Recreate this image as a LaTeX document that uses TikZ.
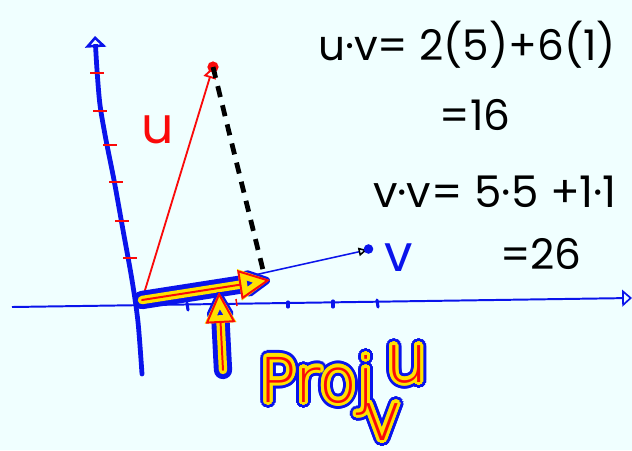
\documentclass[tikz,border=0pt]{standalone}
\usepackage{fontspec}
\setmainfont{Poppins}
\newfontfamily\handfont{DejaVu Sans ExtraLight}
\usetikzlibrary{arrows.meta,positioning}
\definecolor{paper}{RGB}{240,255,255}
\definecolor{pen}{RGB}{10,20,235}
\definecolor{marker}{RGB}{255,225,0}
\definecolor{ink}{RGB}{250,10,10}

\begin{document}
\begin{tikzpicture}[x=0.025cm,y=-0.025cm,every node/.style={font=\fontsize{30}{32}\selectfont,inner sep=0pt},
  hlpen/.style={draw=pen,line width=13pt,line cap=round,line join=round,-{Triangle[round,length=22pt,width=21pt]}},
  hlmark/.style={draw=marker,line width=6pt,line cap=round,line join=round},
  hlink/.style={draw=ink,line width=1.4pt,line cap=round,line join=round},
  hltip/.style={-{Triangle[open,length=22pt,width=21pt]}},
  redtick/.style={ink,line width=1.1pt},
  bluetick/.style={pen,line width=2.2pt,line cap=round},
  bigtext/.style={font=\handfont\fontsize{44}{46}\selectfont,anchor=base west},
  subtext/.style={font=\handfont\fontsize{48}{50}\selectfont,anchor=base west}]
\fill[paper] (0,0) rectangle (632,450);
\useasboundingbox (0,0) rectangle (632,450);
\coordinate (O) at (142,300);
\coordinate (U) at (213,67);
\coordinate (V) at (367,250);
\coordinate (F) at (264,274);
\coordinate (P) at (270,280);
\coordinate (ybot) at (142,374);
\coordinate (xleft) at (12,307);
\coordinate (xright) at (632,298);
\coordinate (upfoot) at (223,370);
\coordinate (uptip) at (219,292);
\draw[pen,line width=1.4pt,-{Triangle[open,length=7pt,width=12pt,line width=1.2pt]}] (xleft) -- (xright);
\draw[pen,line width=3.4pt,line cap=round,-{Triangle[open,length=8pt,width=15pt,line width=1.8pt]}] plot[smooth] coordinates {(142,374) (138,322) (132,280) (123,230) (114,180) (106,140) (100,105) (97,70) (95,36)};
\draw[redtick] (90,73) -- (104,73);
\draw[redtick] (93,111) -- (107,111);
\draw[redtick] (103,145) -- (117,145);
\draw[redtick] (109,182) -- (123,182);
\draw[redtick] (115,221) -- (129,221);
\draw[redtick] (123,258) -- (137,258);
\draw[redtick] (236,299) -- (237,306);
\draw[bluetick] (187,303) -- (188,310);
\draw[bluetick] (288,302) -- (288,307);
\draw[bluetick] (333,301) -- (333,307);
\draw[bluetick] (377,300) -- (378,307);
\draw[pen,line width=1.1pt,-{Triangle[open,length=6pt,width=6pt,black]}] (O) -- (V);
\fill[pen] (V) ++(1.5,-1) circle (3.4pt);
\draw[ink,line width=1.3pt,-{Triangle[open,length=8pt,width=9pt]}] (O) -- (U);
\fill[ink] (U) circle (4pt);
\draw[black,line width=3.4pt,dash pattern=on 8pt off 6pt] (U) -- (F);
\draw[hlpen] (O) -- (P);
\draw[hlmark,hltip] (O) -- (P);
\draw[hlink,hltip] (O) -- (P);
\draw[hlpen] (upfoot) -- (uptip);
\draw[hlmark,hltip] (upfoot) -- (uptip);
\draw[hlink,hltip] (upfoot) -- (uptip);
\node[text=ink,font=\fontsize{36}{38}\selectfont] (ulabel) at (158,130) {u};
\node[text=pen,font=\fontsize{36}{38}\selectfont] (vlabel) at (399,258) {v};
\node[text=black] (uv) at (467,45) {u·v= 2(5)+6(1)};
\node[text=black] (uvval) at (475,115) {=16};
\node[text=black,font=\fontsize{31}{33}\selectfont] (vv) at (495,192) {v·v= 5·5 +1·1};
\node[text=black] (vvval) at (541,254) {=26};
\foreach \r [count=\j] in {3.2,4.3} {
  \foreach \a [count=\i] in {0,15,...,345} {
    \node[bigtext,text=pen] (projb\j-\i) at ([shift={(\a:\r pt)}]259,402) {Proj};
    \node[subtext,text=pen] (supb\j-\i) at ([shift={(\a:\r pt)}]385,382) {u};
    \node[subtext,text=pen] (subb\j-\i) at ([shift={(\a:\r pt)}]362,440) {v};
  }
}
\foreach \r [count=\j] in {1.2,2.2} {
  \foreach \a [count=\i] in {0,15,...,345} {
    \node[bigtext,text=marker] (projy\j-\i) at ([shift={(\a:\r pt)}]259,402) {Proj};
    \node[subtext,text=marker] (supy\j-\i) at ([shift={(\a:\r pt)}]385,382) {u};
    \node[subtext,text=marker] (suby\j-\i) at ([shift={(\a:\r pt)}]362,440) {v};
  }
}
\node[bigtext,text=ink] (proj) at (259,402) {Proj};
\node[subtext,text=ink] (projsup) at (385,382) {u};
\node[subtext,text=ink] (projsub) at (362,440) {v};
\end{tikzpicture}
\end{document}
